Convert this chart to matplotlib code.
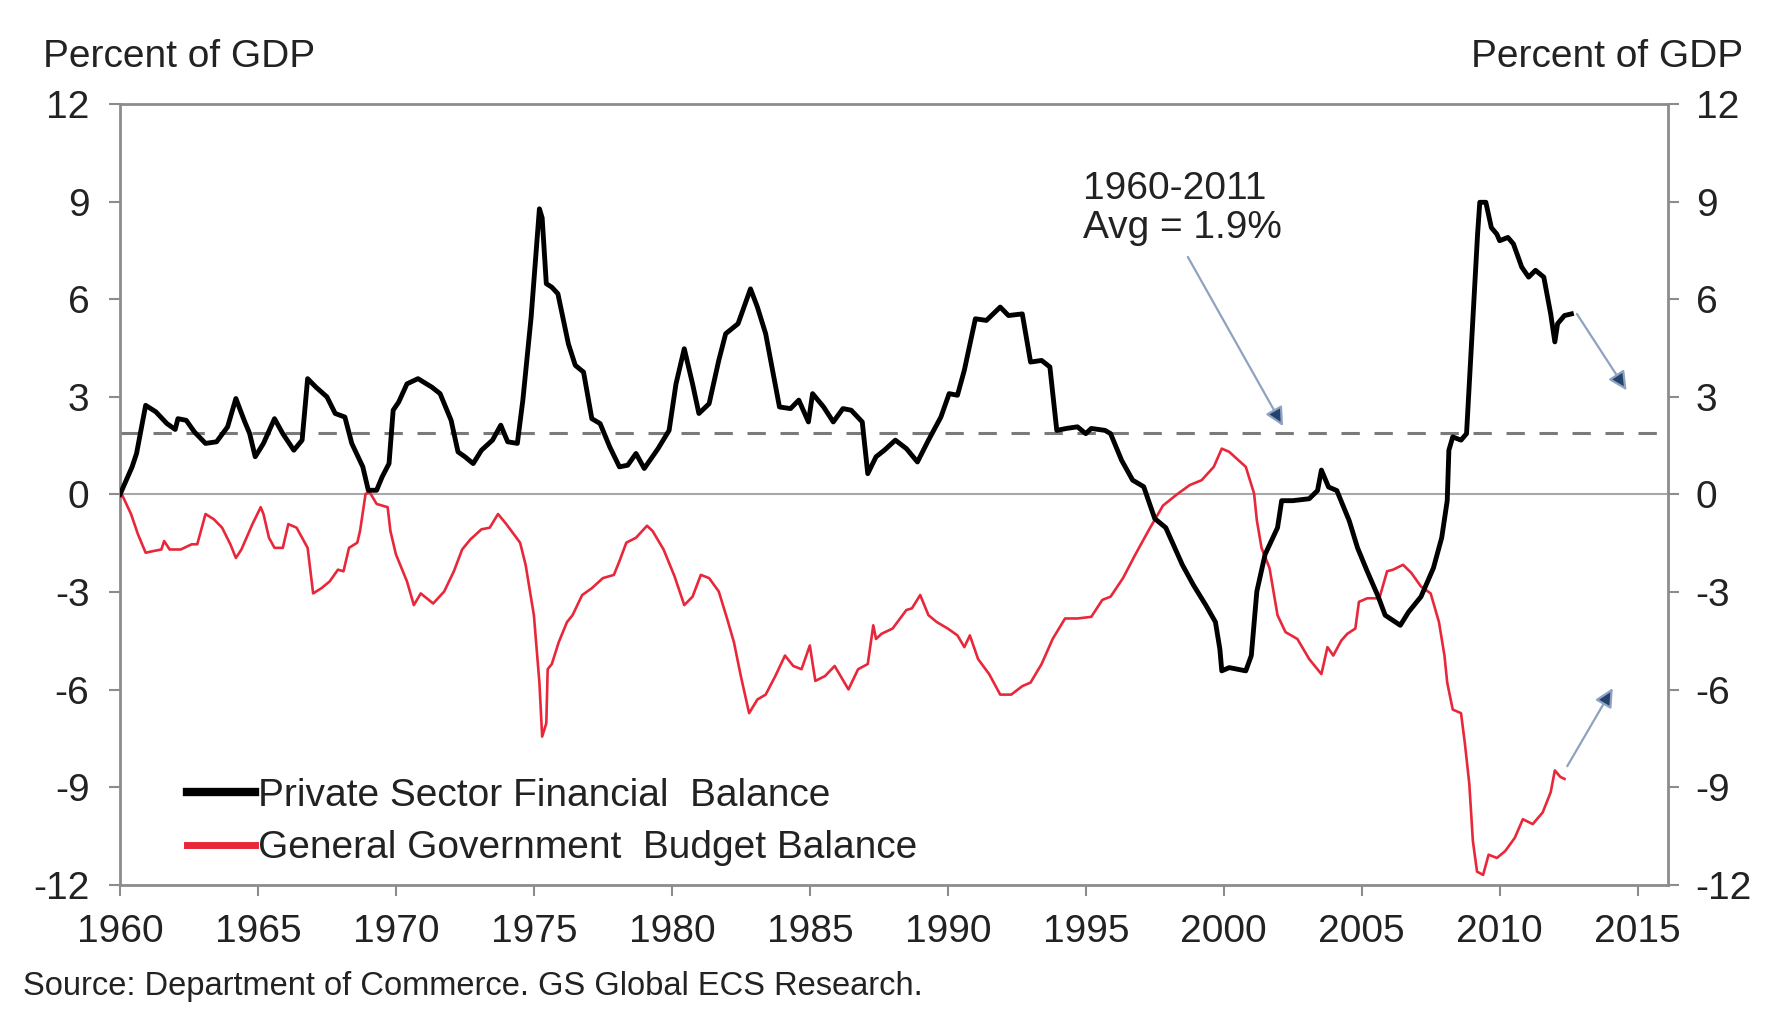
import matplotlib
matplotlib.use("Agg")
import matplotlib.pyplot as plt
from matplotlib.lines import Line2D

plt.rcParams['font.family'] = ['Liberation Sans', 'DejaVu Sans']
plt.rcParams['axes.unicode_minus'] = False

# private sector financial balance, % of GDP
private_years = [1960.0, 1960.44, 1960.6, 1960.93, 1961.3, 1961.7, 1962.0, 1962.1, 1962.4, 1962.7,
                 1963.1, 1963.5, 1963.9, 1964.2, 1964.5, 1964.7, 1964.9, 1965.2, 1965.6, 1965.9,
                 1966.3, 1966.6, 1966.8, 1967.1, 1967.5, 1967.8, 1968.15, 1968.4, 1968.8, 1969.0,
                 1969.3, 1969.5, 1969.75, 1969.9, 1970.1, 1970.4, 1970.8, 1971.3, 1971.6, 1972.0,
                 1972.25, 1972.5, 1972.8, 1973.1, 1973.5, 1973.8, 1974.05, 1974.4, 1974.6, 1974.9,
                 1975.2, 1975.3, 1975.45, 1975.65, 1975.87, 1976.25, 1976.5, 1976.8, 1977.1, 1977.4,
                 1977.75, 1978.1, 1978.4, 1978.7, 1979.0, 1979.5, 1979.9, 1980.15, 1980.45, 1980.75,
                 1980.98, 1981.35, 1981.7, 1981.95, 1982.4, 1982.85, 1983.1, 1983.4, 1983.9, 1984.3,
                 1984.6, 1984.95, 1985.1, 1985.5, 1985.85, 1986.2, 1986.5, 1986.9, 1987.1, 1987.4,
                 1987.7, 1988.1, 1988.5, 1988.9, 1989.3, 1989.75, 1990.05, 1990.35, 1990.6, 1991.0,
                 1991.4, 1991.9, 1992.2, 1992.7, 1993.0, 1993.4, 1993.7, 1993.95, 1994.3, 1994.7,
                 1995.0, 1995.2, 1995.7, 1995.9, 1996.3, 1996.7, 1997.1, 1997.5, 1997.9, 1998.5,
                 1998.9, 1999.35, 1999.7, 1999.86, 1999.93, 2000.2, 2000.8, 2001.0, 2001.2, 2001.5,
                 2001.95, 2002.1, 2002.5, 2003.1, 2003.4, 2003.54, 2003.8, 2004.1, 2004.55, 2004.85,
                 2005.2, 2005.6, 2005.85, 2006.4, 2006.7, 2007.15, 2007.6, 2007.9, 2008.1, 2008.16,
                 2008.3, 2008.6, 2008.8, 2009.0, 2009.2, 2009.28, 2009.5, 2009.7, 2009.9, 2010.0,
                 2010.3, 2010.5, 2010.8, 2011.05, 2011.3, 2011.6, 2011.85, 2012.0, 2012.1, 2012.35,
                 2012.6]
private_vals = [0.0, 0.85, 1.26, 2.74, 2.54, 2.18, 2.0, 2.33, 2.28, 1.92,
                1.57, 1.62, 2.08, 2.95, 2.28, 1.87, 1.16, 1.57, 2.33, 1.87,
                1.36, 1.67, 3.56, 3.3, 3.0, 2.49, 2.38, 1.57, 0.85, 0.13,
                0.13, 0.54, 0.95, 2.59, 2.84, 3.4, 3.56, 3.3, 3.1, 2.28,
                1.31, 1.16, 0.95, 1.36, 1.67, 2.13, 1.62, 1.57, 2.9, 5.45,
                8.78, 8.5, 6.48, 6.37, 6.17, 4.63, 3.97, 3.76, 2.33, 2.18,
                1.46, 0.85, 0.9, 1.26, 0.8, 1.41, 1.97, 3.4, 4.48, 3.4,
                2.49, 2.79, 4.12, 4.94, 5.25, 6.32, 5.76, 4.94, 2.69, 2.64,
                2.9, 2.23, 3.1, 2.69, 2.23, 2.64, 2.59, 2.23, 0.64, 1.16,
                1.36, 1.67, 1.41, 1.0, 1.67, 2.38, 3.1, 3.05, 3.82, 5.4,
                5.35, 5.76, 5.5, 5.55, 4.07, 4.12, 3.92, 1.97, 2.03, 2.08,
                1.87, 2.03, 1.97, 1.87, 1.05, 0.44, 0.24, -0.74, -1.02, -2.16,
                -2.78, -3.4, -3.92, -4.75, -5.42, -5.32, -5.42, -4.95, -2.98, -1.84,
                -1.02, -0.19, -0.19, -0.13, 0.12, 0.75, 0.23, 0.12, -0.81, -1.64,
                -2.36, -3.14, -3.71, -4.02, -3.61, -3.14, -2.26, -1.33, -0.19, 1.36,
                1.77, 1.67, 1.87, 4.94, 8.0, 8.98, 8.98, 8.2, 8.0, 7.8,
                7.9, 7.7, 6.99, 6.68, 6.89, 6.68, 5.55, 4.69, 5.25, 5.5,
                5.55]

# general government budget balance, % of GDP
govt_years = [1960.07, 1960.4, 1960.65, 1960.93, 1961.2, 1961.5, 1961.6, 1961.8, 1962.2, 1962.6,
              1962.8, 1963.1, 1963.4, 1963.7, 1964.0, 1964.2, 1964.4, 1964.8, 1965.1, 1965.2,
              1965.4, 1965.6, 1965.9, 1966.1, 1966.4, 1966.8, 1967.0, 1967.3, 1967.6, 1967.9,
              1968.1, 1968.3, 1968.6, 1968.7, 1968.9, 1969.05, 1969.3, 1969.7, 1969.8, 1970.0,
              1970.4, 1970.65, 1970.9, 1971.35, 1971.75, 1972.1, 1972.4, 1972.7, 1973.1, 1973.4,
              1973.7, 1974.0, 1974.5, 1974.7, 1975.0, 1975.2, 1975.3, 1975.45, 1975.5, 1975.65,
              1975.9, 1976.2, 1976.4, 1976.75, 1977.1, 1977.5, 1977.9, 1978.1, 1978.35, 1978.7,
              1979.1, 1979.3, 1979.7, 1980.1, 1980.45, 1980.75, 1981.05, 1981.35, 1981.7, 1982.0,
              1982.25, 1982.5, 1982.8, 1983.1, 1983.4, 1983.75, 1984.1, 1984.4, 1984.7, 1985.0,
              1985.2, 1985.55, 1985.9, 1986.4, 1986.75, 1987.1, 1987.3, 1987.4, 1987.6, 1988.0,
              1988.5, 1988.7, 1989.0, 1989.3, 1989.6, 1990.0, 1990.35, 1990.6, 1990.8, 1991.1,
              1991.5, 1991.9, 1992.3, 1992.7, 1993.0, 1993.4, 1993.8, 1994.25, 1994.7, 1995.2,
              1995.6, 1995.9, 1996.35, 1996.8, 1997.3, 1997.8, 1998.3, 1998.77, 1999.2, 1999.64,
              1999.93, 2000.2, 2000.8, 2001.1, 2001.2, 2001.37, 2001.66, 2001.95, 2002.24, 2002.67,
              2003.1, 2003.54, 2003.76, 2003.97, 2004.26, 2004.48, 2004.77, 2004.9, 2005.2, 2005.64,
              2005.92, 2006.14, 2006.5, 2006.8, 2007.15, 2007.5, 2007.8, 2008.0, 2008.1, 2008.3,
              2008.6, 2008.74, 2008.9, 2009.03, 2009.18, 2009.4, 2009.6, 2009.9, 2010.2, 2010.55,
              2010.84, 2011.2, 2011.56, 2011.85, 2012.0, 2012.2, 2012.35]
govt_vals = [0.0, -0.6, -1.22, -1.79, -1.74, -1.69, -1.43, -1.69, -1.69, -1.53,
             -1.53, -0.6, -0.76, -1.02, -1.53, -1.95, -1.69, -0.91, -0.39, -0.6,
             -1.33, -1.64, -1.64, -0.91, -1.02, -1.64, -3.04, -2.88, -2.67, -2.31,
             -2.36, -1.64, -1.48, -1.12, 0.02, 0.07, -0.29, -0.39, -1.12, -1.84,
             -2.67, -3.4, -3.04, -3.35, -2.98, -2.36, -1.69, -1.38, -1.07, -1.02,
             -0.6, -0.91, -1.48, -2.16, -3.71, -5.78, -7.44, -7.03, -5.37, -5.21,
             -4.54, -3.92, -3.71, -3.09, -2.88, -2.57, -2.47, -2.05, -1.48, -1.33,
             -0.96, -1.12, -1.69, -2.52, -3.4, -3.14, -2.47, -2.57, -2.98, -3.81,
             -4.54, -5.58, -6.72, -6.3, -6.15, -5.58, -4.95, -5.27, -5.37, -4.64,
             -5.73, -5.58, -5.27, -5.99, -5.37, -5.21, -4.02, -4.44, -4.28, -4.12,
             -3.55, -3.5, -3.09, -3.71, -3.92, -4.12, -4.33, -4.69, -4.33, -5.06,
             -5.52, -6.15, -6.15, -5.89, -5.78, -5.21, -4.44, -3.81, -3.81, -3.76,
             -3.24, -3.14, -2.57, -1.84, -1.07, -0.34, 0.0, 0.29, 0.44, 0.85,
             1.41, 1.31, 0.85, 0.03, -0.79, -1.64, -2.26, -3.71, -4.23, -4.44,
             -5.06, -5.52, -4.69, -4.95, -4.49, -4.28, -4.12, -3.3, -3.19, -3.19,
             -2.36, -2.31, -2.16, -2.41, -2.83, -3.04, -3.92, -4.95, -5.78, -6.61,
             -6.72, -7.65, -8.89, -10.65, -11.59, -11.69, -11.07, -11.17, -10.96, -10.55,
             -9.98, -10.13, -9.77, -9.15, -8.48, -8.68, -8.74]

avg_private = 1.9
x_ticks = [1960, 1965, 1970, 1975, 1980, 1985, 1990, 1995, 2000, 2005, 2010, 2015]
y_ticks = [-12, -9, -6, -3, 0, 3, 6, 9, 12]

text_col = '#222222'
axis_col = '#8c8c8c'
red = '#e8283a'
fs = 28

fig = plt.figure(figsize=(17.75, 10.1), dpi=100)
ax = fig.add_axes([0.0676, 0.1238, 0.8721, 0.7732])

ax.axhline(0, color='#a8a8a8', lw=1.5, zorder=1)
ax.plot([1960, 2015.7], [avg_private, avg_private], color='#7a7a7a', lw=2.2,
        dashes=(6, 4.8), zorder=2)
ax.plot(govt_years, govt_vals, color=red, lw=1.9, zorder=3)
ax.plot(private_years, private_vals, color='black', lw=3.5, zorder=4)

ax.set_xlim(1960, 2016.1)
ax.set_ylim(-12, 12)
ax.set_xticks(x_ticks)
ax.set_yticks(y_ticks)

for s in ax.spines.values():
    s.set_color(axis_col)
    s.set_linewidth(2)

ax.tick_params(axis='both', colors=axis_col, labelcolor=text_col, labelsize=fs,
               direction='out', length=8, width=1.5)
ax.tick_params(axis='y', pad=14)
ax.tick_params(axis='x', pad=13)

ax2 = ax.twinx()
ax2.set_ylim(-12, 12)
ax2.set_yticks(y_ticks)
for s in ax2.spines.values():
    s.set_visible(False)
ax2.tick_params(axis='y', colors=axis_col, labelcolor=text_col, labelsize=fs,
                direction='out', length=8, width=1.5, pad=12)

fig.text(0.024, 0.944, 'Percent of GDP', fontsize=fs, color=text_col, va='center', ha='left')
fig.text(0.982, 0.944, 'Percent of GDP', fontsize=fs, color=text_col, va='center', ha='right')

ax.text(1994.9, 9.95, '1960-2011\nAvg = 1.9%', fontsize=fs, color=text_col,
        va='top', ha='left', linespacing=1.1)

# arrows
arrow_edge = '#8ea2c2'
arrow_head = '#24426e'
for start, end in [((1998.7, 7.3), (2002.15, 2.1)),
                   ((2012.8, 5.55), (2014.6, 3.2)),
                   ((2012.45, -8.35), (2014.1, -5.95))]:
    ax.annotate('', xy=end, xytext=start,
                arrowprops=dict(arrowstyle='-|>', mutation_scale=28,
                                edgecolor=arrow_edge, facecolor=arrow_head, lw=1.6,
                                shrinkA=0, shrinkB=0), zorder=5)

handles = [Line2D([], [], color='black', lw=6),
           Line2D([], [], color=red, lw=5)]
ax.legend(handles, ['Private Sector Financial  Balance', 'General Government  Budget Balance'],
          loc='lower left', bbox_to_anchor=(0.043, 0.024), frameon=False,
          fontsize=fs, handlelength=1.75, handletextpad=0.08, labelspacing=0.42,
          borderpad=0, borderaxespad=0, labelcolor=text_col)

fig.text(0.013, 0.0228, 'Source: Department of Commerce. GS Global ECS Research.',
         fontsize=23.5, color=text_col, va='center', ha='left')

fig.savefig('out.png', dpi=100, facecolor='white')
